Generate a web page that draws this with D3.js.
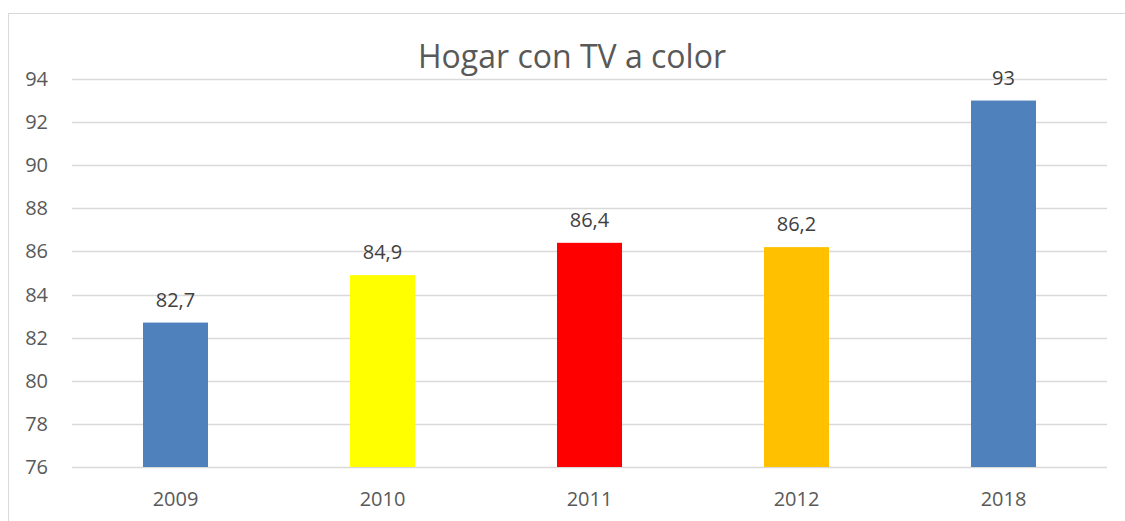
<!DOCTYPE html>
<html>
<head>
<meta charset="utf-8">
<script src="https://cdn.jsdelivr.net/npm/d3@7"></script>
<style>
  body { margin: 0; background: #fff; }
  svg text { font-family: "Open Sans", "Noto Sans", sans-serif; fill: #595959; }
</style>
</head>
<body>
<script>
// datos del gráfico
var years = ["2009", "2010", "2011", "2012", "2018"];
var values = [82.7, 84.9, 86.4, 86.2, 93];
var barColors = ["#4F81BD", "#FFFF00", "#FF0000", "#FFC000", "#4F81BD"];
var yTicks = [76, 78, 80, 82, 84, 86, 88, 90, 92, 94];

var W = 1125, H = 521;
var plotLeft = 72, plotRight = 1107, plotTop = 79, plotBottom = 467;

var svg = d3.select("body").append("svg").attr("width", W).attr("height", H);

// marco del gráfico (cortado a la derecha y abajo)
svg.append("rect").attr("x", 8.5).attr("y", 13.5).attr("width", 1130).attr("height", 520)
    .attr("fill", "none").attr("stroke", "#D9D9D9").attr("stroke-width", 1);

var x = d3.scaleBand().domain(years).range([plotLeft, plotRight]).paddingInner(0.686).paddingOuter(0.343);
var y = d3.scaleLinear().domain([76, 94]).range([plotBottom, plotTop]);

// líneas de cuadrícula
svg.append("g").selectAll("line").data(yTicks).enter().append("line")
    .attr("x1", plotLeft).attr("x2", plotRight)
    .attr("y1", function (d) { return Math.round(y(d)) + 0.5; })
    .attr("y2", function (d) { return Math.round(y(d)) + 0.5; })
    .attr("stroke", "#D9D9D9").attr("stroke-width", 1.3);

// etiquetas del eje Y
svg.append("g").selectAll("text").data(yTicks).enter().append("text")
    .attr("x", 48).attr("y", function (d) { return y(d) + 7; })
    .attr("text-anchor", "end").style("font-size", "20px")
    .text(function (d) { return d; });

// barras
svg.append("g").selectAll("rect").data(values).enter().append("rect")
    .attr("x", function (d, i) { return x(years[i]); })
    .attr("width", x.bandwidth())
    .attr("y", function (d) { return y(d); })
    .attr("height", function (d) { return y(76) - y(d); })
    .attr("fill", function (d, i) { return barColors[i]; });

// etiquetas de datos
svg.append("g").selectAll("text").data(values).enter().append("text")
    .attr("x", function (d, i) { return x(years[i]) + x.bandwidth() / 2; })
    .attr("y", function (d) { return y(d) - 16; })
    .attr("text-anchor", "middle").style("font-size", "20px").style("fill", "#404040")
    .text(function (d) { return String(d).replace(".", ","); });

// etiquetas del eje X
svg.append("g").selectAll("text").data(years).enter().append("text")
    .attr("x", function (d) { return x(d) + x.bandwidth() / 2; })
    .attr("y", 506)
    .attr("text-anchor", "middle").style("font-size", "20px")
    .text(function (d) { return d; });

// título
svg.append("text").attr("x", 572).attr("y", 68).attr("text-anchor", "middle")
    .style("font-size", "32px").text("Hogar con TV a color");
</script>
</body>
</html>
